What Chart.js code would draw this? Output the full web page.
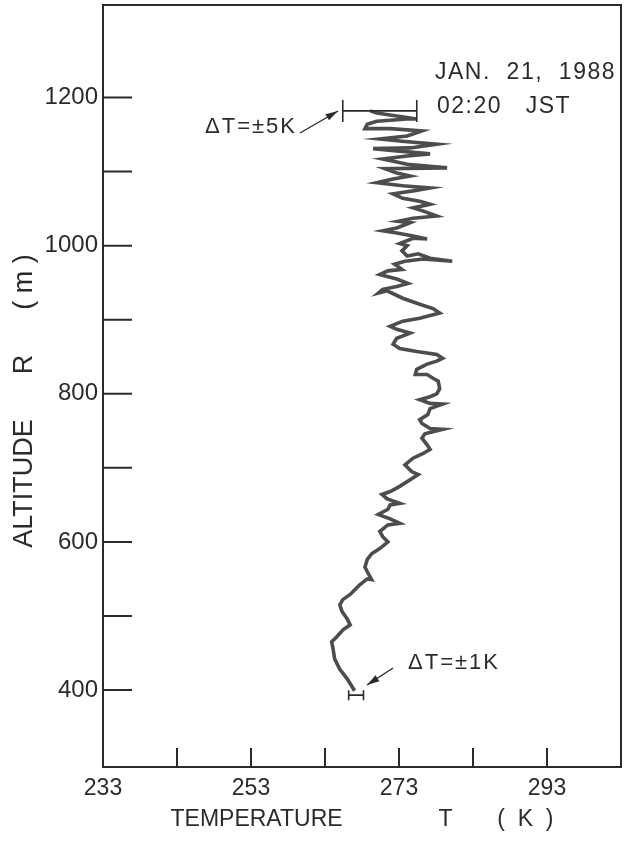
<!DOCTYPE html>
<html>
<head>
<meta charset="utf-8">
<script src="https://cdn.jsdelivr.net/npm/chart.js@4/dist/chart.umd.min.js"></script>
<style>
  body { margin: 0; background: #fff; }
  #wrap { width: 635px; height: 842px; }
</style>
</head>
<body>
<div id="wrap"><canvas id="profileChart"></canvas></div>
<script>
// Temperature profile (altitude in m, temperature in K)
const altitude = [399,415,428,442,455,465,472,481,488,496,
  506,515,522,529,535,542,550,549,560,566,
  576,584,591,600,607,614,623,625,631,637,
  644,650,652,658,664,668,675,684,691,695,
  704,713,719,725,731,740,746,752,753,760,
  765,772,780,786,787,792,796,800,807,817,
  821,826,826,833,840,844,848,853,857,861,
  867,875,882,887,891,898,902,909,915,921,
  929,939,936,941,945,949,955,961,966,968,
  975,979,982,979,983,989,986,993,1000,1003,
  1010,1009,1013,1017,1020,1024,1031,1033,1037,1040,
  1047,1051,1056,1060,1064,1070,1074,1078,1081,1085,
  1090,1094,1098,1104,1105,1110,1117,1121,1124,1128,
  1131,1132,1137,1141,1144,1148,1155,1158,1158,1164,
  1168,1171,1171,1175,1179,1182];
const temperature = [267.0,266.0,265.0,264.3,264.1,263.9,264.6,265.4,266.4,266.0,
  265.3,265.0,265.4,266.4,267.0,267.7,268.7,269.3,268.7,268.4,
  268.7,269.3,270.4,271.5,270.8,270.4,271.5,273.1,271.8,270.2,
  271.5,271.8,273.1,271.4,270.7,271.8,273.1,274.5,275.6,274.7,
  273.8,274.9,276.2,277.2,276.8,276.1,276.5,278.9,277.2,276.1,
  275.8,276.9,277.2,278.9,277.2,275.8,277.2,278.1,278.5,278.3,
  277.6,276.8,275.2,275.4,276.8,278.1,278.9,278.1,275.4,273.1,
  272.2,272.7,274.5,272.7,271.8,273.5,275.8,278.5,277.6,275.8,
  273.5,271.4,270.2,270.8,272.7,274.2,272.7,270.4,271.5,273.4,
  272.4,273.8,276.2,280.2,277.2,275.6,274.1,273.4,274.1,273.1,
  274.9,276.8,274.9,272.7,270.8,272.7,274.5,272.9,274.9,278.1,
  276.2,274.9,277.2,275.8,273.5,272.2,274.9,277.2,273.5,270.0,
  272.2,274.5,272.7,271.1,279.5,274.1,270.8,274.1,277.2,272.7,
  269.5,274.5,278.1,273.4,270.4,274.1,276.1,271.8,268.4,268.7,
  270.0,274.1,275.4,272.7,270.0,269.1];

// Axis ticks
const xLabelTicks = [233, 253, 273, 293];
const xTickMarks = [243, 253, 263, 273, 283, 293];
const yLabelTicks = [400, 600, 800, 1000, 1200];
const yTickMarks = [400, 500, 600, 700, 800, 900, 1000, 1100, 1200];

// Error bars (centre temperature, altitude, half width in K)
const errTemp = [270.4, 267.2];
const errAlt = [1182, 393];
const errHalf = [5, 1];
const errLabels = ['ΔT=±5K', 'ΔT=±1K'];

const FONT = '"Liberation Sans", Arial, Helvetica, sans-serif';
const INK = '#2b2b2b';

function arrow(ctx, x1, y1, x2, y2) {
  const a = Math.atan2(y2 - y1, x2 - x1);
  ctx.beginPath();
  ctx.moveTo(x1, y1);
  ctx.lineTo(x2, y2);
  ctx.stroke();
  ctx.beginPath();
  ctx.moveTo(x2, y2);
  ctx.lineTo(x2 - 13 * Math.cos(a - 0.28), y2 - 13 * Math.sin(a - 0.28));
  ctx.lineTo(x2 - 13 * Math.cos(a + 0.28), y2 - 13 * Math.sin(a + 0.28));
  ctx.closePath();
  ctx.fill();
}

// frame, inward tick marks, error bars and notes
const decorPlugin = {
  id: 'decor',
  afterDraw(chart) {
    const { ctx, chartArea: area, scales: { x, y } } = chart;
    ctx.save();
    ctx.strokeStyle = INK;
    ctx.fillStyle = INK;
    ctx.lineWidth = 2;
    ctx.strokeRect(area.left, area.top, area.right - area.left, area.bottom - area.top);

    ctx.beginPath();
    yTickMarks.forEach(v => {
      const py = y.getPixelForValue(v);
      ctx.moveTo(area.left, py);
      ctx.lineTo(area.left + 29, py);
    });
    xTickMarks.forEach(v => {
      const px = x.getPixelForValue(v);
      ctx.moveTo(px, area.bottom);
      ctx.lineTo(px, area.bottom - 19);
    });
    ctx.stroke();

    // error bars
    ctx.lineWidth = 1.6;
    errTemp.forEach((t, i) => {
      const x1 = x.getPixelForValue(t - errHalf[i]);
      const x2 = x.getPixelForValue(t + errHalf[i]);
      const py = y.getPixelForValue(errAlt[i]);
      const cap = i === 0 ? 11 : 5;
      ctx.beginPath();
      ctx.moveTo(x1, py); ctx.lineTo(x2, py);
      ctx.moveTo(x1, py - cap); ctx.lineTo(x1, py + cap);
      ctx.moveTo(x2, py - cap); ctx.lineTo(x2, py + cap);
      ctx.stroke();
    });

    // notes
    ctx.letterSpacing = '2px';
    ctx.font = '22px ' + FONT;
    ctx.textBaseline = 'middle';
    ctx.textAlign = 'right';
    ctx.fillText(errLabels[0], 297, 127);
    ctx.textAlign = 'left';
    ctx.fillText(errLabels[1], 408, 663);
    ctx.lineWidth = 1.4;
    arrow(ctx, 300, 133, 338, 111);
    arrow(ctx, 393, 668, 367, 685);

    ctx.letterSpacing = '1.5px';
    ctx.font = '23px ' + FONT;
    ctx.textBaseline = 'alphabetic';
    ctx.fillText('JAN.  21,  1988', 435, 79);
    ctx.fillText('02:20   JST', 437, 113);
    ctx.restore();
  }
};

const ctx = document.getElementById('profileChart').getContext('2d');
new Chart(ctx, {
  type: 'scatter',
  data: {
    datasets: [{
      data: altitude.map((a, i) => ({ x: temperature[i], y: a })),
      showLine: true,
      borderColor: '#4d4d4d',
      borderWidth: 3.6,
      pointRadius: 0,
      tension: 0
    }]
  },
  options: {
    responsive: true,
    maintainAspectRatio: false,
    animation: false,
    layout: { padding: { top: 5, right: 14, left: 0, bottom: 0 } },
    plugins: { legend: { display: false }, tooltip: { enabled: false } },
    scales: {
      x: {
        type: 'linear',
        min: 233,
        max: 303,
        afterFit(scale) {
          scale.height = 75;
          scale.paddingLeft = 0;
          scale.paddingRight = 0;
        },
        afterBuildTicks(scale) { scale.ticks = xLabelTicks.map(v => ({ value: v })); },
        grid: { display: false, drawTicks: false },
        border: { display: false },
        ticks: {
          color: INK, padding: 8, maxRotation: 0,
          font: { family: FONT, size: 23 },
          callback: v => String(v)
        },
        title: {
          display: true,
          text: 'TEMPERATURE               T       (  K  )',
          color: INK,
          font: { family: FONT, size: 23 },
          padding: { top: 0, bottom: 9 }
        }
      },
      y: {
        type: 'linear',
        min: 296,
        max: 1325,
        afterFit(scale) {
          scale.width = 103;
          scale.paddingTop = 0;
          scale.paddingBottom = 0;
        },
        afterBuildTicks(scale) { scale.ticks = yLabelTicks.map(v => ({ value: v })); },
        grid: { display: false, drawTicks: false },
        border: { display: false },
        ticks: {
          color: INK, padding: 5,
          font: { family: FONT, size: 24 },
          callback: v => String(v)
        },
        title: {
          display: true,
          text: 'ALTITUDE      R      ( m )    ',
          color: INK,
          font: { family: FONT, size: 27 },
          padding: { top: 8, bottom: 0 }
        }
      }
    }
  },
  plugins: [decorPlugin]
});
</script>
</body>
</html>
